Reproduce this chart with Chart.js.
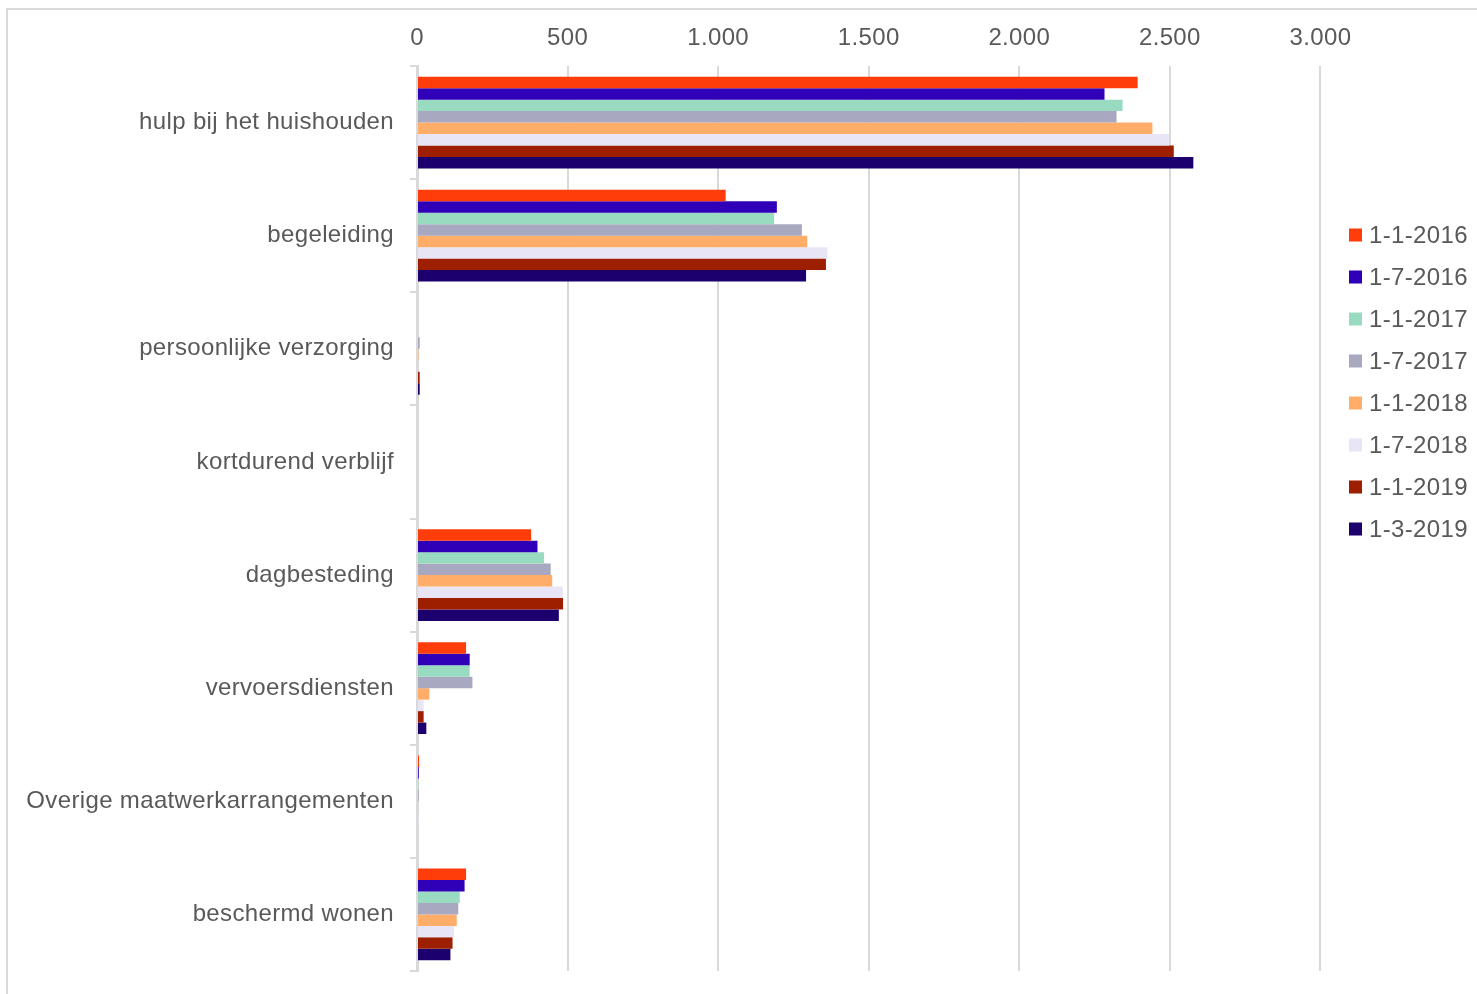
<!DOCTYPE html>
<html>
<head>
<meta charset="utf-8">
<script src="https://cdn.jsdelivr.net/npm/chart.js@4"></script>
<style>
  html, body { margin: 0; padding: 0; background: #ffffff; overflow: hidden; }
  #wrap { position: relative; width: 1477px; height: 994px; }
  #frame { position: absolute; left: 6px; top: 8px; width: 3000px; height: 3000px;
           border: 2px solid #d9d9d9; box-sizing: border-box; pointer-events: none; }
  canvas { position: absolute; left: 0; top: 0; }
</style>
</head>
<body>
<div id="wrap">
  <div id="frame"></div>
  <canvas id="c" width="1477" height="994"></canvas>
</div>
<script>
const categories = ['hulp bij het huishouden', 'begeleiding', 'persoonlijke verzorging', 'kortdurend verblijf',
                    'dagbesteding', 'vervoersdiensten', 'Overige maatwerkarrangementen', 'beschermd wonen'];
const seriesNames = ['1-1-2016', '1-7-2016', '1-1-2017', '1-7-2017', '1-1-2018', '1-7-2018', '1-1-2019', '1-3-2019'];
const s2016a = [2393, 1025, 0, 0, 379, 163, 7, 163];
const s2016b = [2283, 1195, 0, 0, 400, 175, 6, 158];
const s2017a = [2343, 1186, 0, 0, 422, 175, 5, 142];
const s2017b = [2323, 1278, 9, 0, 444, 184, 6, 137];
const s2018a = [2442, 1296, 5, 0, 449, 41, 0, 132];
const s2018b = [2497, 1363, 4, 0, 484, 22, 5, 123];
const s2019a = [2513, 1358, 9, 0, 485, 22, 0, 118];
const s2019c = [2578, 1292, 9, 0, 471, 31, 0, 111];
const seriesValues = [s2016a, s2016b, s2017a, s2017b, s2018a, s2018b, s2019a, s2019c];
const seriesColors = ['#FF3D0A', '#2F00B8', '#99DBC1', '#A8A8C0', '#FFAD69', '#E8E5F7', '#9E1F00', '#1C006E'];
const xTickMax = 3500;
const xTickStep = 500;

const textColor = '#595959';
const gridColor = '#d9d9d9';
const fontFamily = '"Liberation Sans", Arial, sans-serif';

function fmt(v) {
  return String(v).replace(/\B(?=(\d{3})+(?!\d))/g, '.');
}

function noPad(s) {
  s.paddingTop = 0; s.paddingBottom = 0; s.paddingLeft = 0; s.paddingRight = 0;
}

const spacing = {
  id: 'spacing',
  beforeDraw(chart) {
    if ('letterSpacing' in chart.ctx) chart.ctx.letterSpacing = '0.35px';
  }
};

const overlayLegend = {
  id: 'overlayLegend',
  afterDraw(chart) {
    const ctx = chart.ctx;
    ctx.save();
    ctx.font = '24px ' + fontFamily;
    ctx.textBaseline = 'middle';
    ctx.textAlign = 'left';
    chart.data.datasets.forEach((ds, i) => {
      const cy = 235 + 42 * i;
      ctx.fillStyle = ds.backgroundColor;
      ctx.fillRect(1349, cy - 6.5, 13, 13);
      ctx.fillStyle = textColor;
      ctx.fillText(ds.label, 1369, cy + 1);
    });
    ctx.restore();
  }
};

new Chart(document.getElementById('c'), {
  type: 'bar',
  data: {
    labels: categories,
    datasets: seriesNames.map((n, i) => ({
      label: n,
      data: seriesValues[i],
      backgroundColor: seriesColors[i],
      borderWidth: 0,
      categoryPercentage: 0.81,
      barPercentage: 1.0
    }))
  },
  options: {
    indexAxis: 'y',
    responsive: false,
    animation: false,
    devicePixelRatio: 1,
    layout: { padding: { left: 0, top: 20, right: 6, bottom: 23 } },
    plugins: {
      legend: { display: false },
      tooltip: { enabled: false }
    },
    scales: {
      x: {
        position: 'top',
        min: 0,
        max: xTickMax,
        ticks: {
          stepSize: xTickStep,
          color: textColor,
          font: { size: 24, family: fontFamily },
          padding: 13,
          maxRotation: 0,
          callback: (v) => v >= xTickMax ? '' : fmt(v)
        },
        grid: {
          drawTicks: false,
          lineWidth: 2,
          color: (c) => (c.tick && c.tick.value >= xTickMax) ? 'rgba(0,0,0,0)' : gridColor
        },
        border: { display: false },
        afterFit: (s) => { s.height = 46; noPad(s); }
      },
      y: {
        ticks: {
          color: textColor,
          font: { size: 24, family: fontFamily },
          padding: 16
        },
        grid: {
          drawOnChartArea: false,
          drawTicks: true,
          tickLength: 7,
          lineWidth: 2,
          color: gridColor
        },
        border: { display: true, color: gridColor, width: 3 },
        afterFit: (s) => { s.width = 417; noPad(s); }
      }
    }
  },
  plugins: [spacing, overlayLegend]
});
</script>
</body>
</html>
